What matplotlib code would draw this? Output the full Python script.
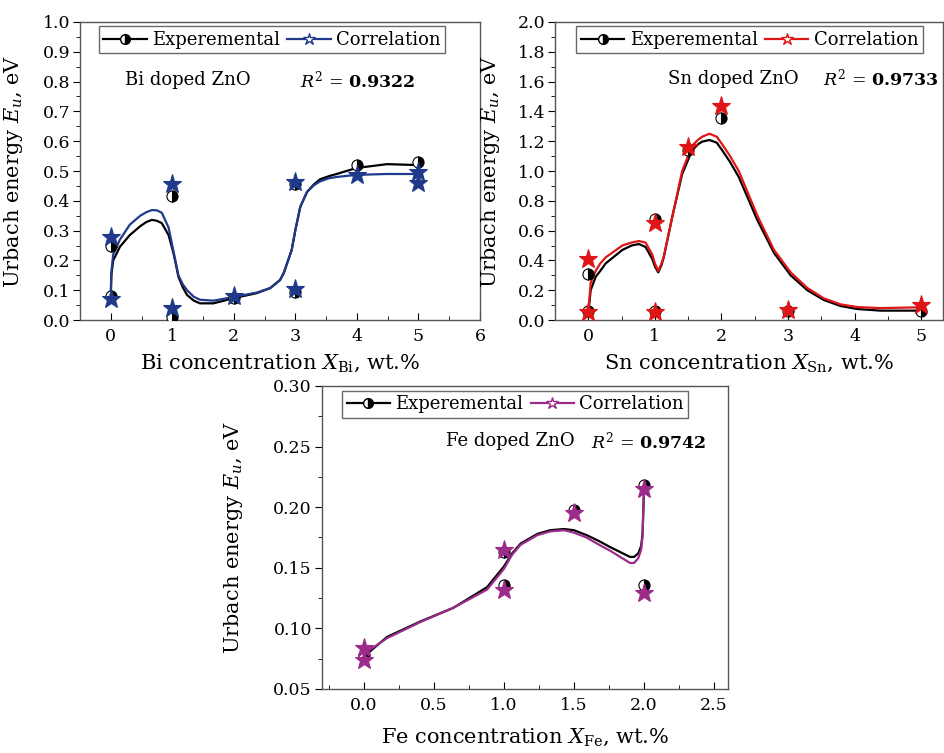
import matplotlib
matplotlib.use("Agg")
import matplotlib.pyplot as plt
from matplotlib.lines import Line2D
from matplotlib.ticker import MultipleLocator, FormatStrFormatter

plt.rcParams["font.family"] = ["DejaVu Serif"]
plt.rcParams["mathtext.fontset"] = "dejavuserif"

# ---- Bi doped ZnO ----
bi_exp_x = [0, 0, 1, 1, 2, 3, 3, 4, 5]
bi_exp_y = [0.25, 0.08, 0.415, 0.01, 0.075, 0.455, 0.095, 0.52, 0.53]
bi_cor_x = [0, 0, 1, 1, 2, 3, 3, 4, 5, 5]
bi_cor_y = [0.28, 0.07, 0.455, 0.04, 0.08, 0.464, 0.103, 0.487, 0.498, 0.46]
bi_fit_x = [0, 0.01, 0.04, 0.15, 0.31, 0.48, 0.58, 0.67, 0.75, 0.83, 0.94, 1.02,
            1.06, 1.1, 1.17, 1.24, 1.35, 1.45, 1.67, 1.99, 2.37, 2.59, 2.75,
            2.81, 2.94, 3.0, 3.08, 3.19, 3.3, 3.4, 3.55, 3.67, 3.99, 4.49, 4.98]
bi_fit_exp = [0.078, 0.15, 0.20, 0.246, 0.285, 0.315, 0.329, 0.336, 0.333, 0.325,
              0.285, 0.224, 0.185, 0.145, 0.11, 0.084, 0.065, 0.056, 0.056,
              0.073, 0.09, 0.107, 0.134, 0.157, 0.235, 0.302, 0.38, 0.43,
              0.455, 0.472, 0.483, 0.49, 0.51, 0.523, 0.52]
bi_fit_cor = [0.07, 0.16, 0.22, 0.27, 0.32, 0.35, 0.362, 0.369, 0.368, 0.36,
              0.31, 0.23, 0.19, 0.15, 0.12, 0.10, 0.078, 0.068, 0.065, 0.077,
              0.092, 0.107, 0.134, 0.157, 0.235, 0.302, 0.38, 0.43, 0.452,
              0.465, 0.476, 0.48, 0.487, 0.49, 0.49]

# ---- Sn doped ZnO ----
sn_exp_x = [0, 0, 1, 1, 1.5, 2, 3, 5]
sn_exp_y = [0.307, 0.06, 0.68, 0.06, 1.14, 1.354, 0.06, 0.062]
sn_cor_x = [0, 0, 1, 1, 1.5, 2, 3, 5]
sn_cor_y = [0.41, 0.056, 0.65, 0.056, 1.163, 1.436, 0.067, 0.1]
sn_fit_x = [0, 0.035, 0.11, 0.18, 0.26, 0.51, 0.65, 0.76, 0.86, 0.96, 1.0,
            1.05, 1.1, 1.135, 1.26, 1.41, 1.56, 1.65, 1.71, 1.82, 1.93, 2.01,
            2.13, 2.26, 2.54, 2.79, 3.04, 3.29, 3.54, 3.79, 4.04, 4.39, 4.94, 5.0]
sn_fit_exp = [0.05, 0.20, 0.29, 0.33, 0.38, 0.47, 0.50, 0.51, 0.49, 0.41, 0.36,
              0.32, 0.37, 0.425, 0.69, 0.98, 1.14, 1.18, 1.197, 1.208, 1.19,
              1.14, 1.06, 0.96, 0.67, 0.45, 0.30, 0.20, 0.134, 0.094, 0.074,
              0.063, 0.063, 0.062]
sn_fit_cor = [0.05, 0.25, 0.33, 0.38, 0.42, 0.50, 0.52, 0.53, 0.52, 0.44, 0.38,
              0.33, 0.38, 0.43, 0.69, 1.0, 1.17, 1.21, 1.23, 1.25, 1.23, 1.18,
              1.10, 1.0, 0.70, 0.47, 0.32, 0.215, 0.145, 0.105, 0.087, 0.08,
              0.085, 0.09]

# ---- Fe doped ZnO ----
fe_exp_x = [0, 1, 1, 1.5, 2, 2]
fe_exp_y = [0.078, 0.163, 0.136, 0.198, 0.218, 0.136]
fe_cor_x = [0, 0, 1, 1, 1.5, 2, 2]
fe_cor_y = [0.084, 0.074, 0.165, 0.132, 0.1955, 0.215, 0.129]
fe_fit_x = [0, 0.167, 0.40, 0.64, 0.88, 1.0, 1.06, 1.12, 1.24, 1.33, 1.43, 1.5,
            1.59, 1.68, 1.76, 1.83, 1.90, 1.93, 1.96, 1.98, 1.99, 2.0]
fe_fit_exp = [0.0767, 0.093, 0.1055, 0.117, 0.134, 0.151, 0.162, 0.170, 0.178,
              0.181, 0.182, 0.181, 0.177, 0.172, 0.167, 0.163, 0.159, 0.159,
              0.162, 0.168, 0.178, 0.214]
fe_fit_cor = [0.079, 0.092, 0.105, 0.117, 0.132, 0.149, 0.161, 0.169, 0.177,
              0.180, 0.181, 0.179, 0.175, 0.169, 0.164, 0.159, 0.154, 0.154,
              0.158, 0.165, 0.176, 0.214]

PANELS = [
    dict(rect=[0.0847, 0.575, 0.4238, 0.3958], color="#1f3a8a",
         exp=(bi_exp_x, bi_exp_y), cor=(bi_cor_x, bi_cor_y),
         fit=(bi_fit_x, bi_fit_exp, bi_fit_cor),
         xlim=(-0.5, 6), ylim=(0, 1.0), xmaj=1, xmin=0.5, ymaj=0.1, ymin=0.05,
         yfmt="%.1f", xfmt="%d",
         xlabel=r"Bi concentration $X_{\mathrm{Bi}}$, wt.%",
         label="Bi doped ZnO", r2="0.9322", lab_xy=(0.23, 0.805), r2_xy=(3.08, 0.805),
         leg=(0.0475, 0.985), ylab_x=-0.1375, xlab_y=-0.11),
    dict(rect=[0.588, 0.575, 0.411, 0.3958], color="#e01515",
         exp=(sn_exp_x, sn_exp_y), cor=(sn_cor_x, sn_cor_y),
         fit=(sn_fit_x, sn_fit_exp, sn_fit_cor),
         xlim=(-0.5, 5.33), ylim=(0, 2.0), xmaj=1, xmin=0.5, ymaj=0.2, ymin=0.1,
         yfmt="%.1f", xfmt="%d",
         xlabel=r"Sn concentration $X_{\mathrm{Sn}}$, wt.%",
         label="Sn doped ZnO", r2="0.9733", lab_xy=(1.2, 1.62), r2_xy=(3.53, 1.62),
         leg=(0.055, 0.985), ylab_x=-0.137, xlab_y=-0.11),
    dict(rect=[0.3408, 0.085, 0.4304, 0.4024], color="#9c2b8a",
         exp=(fe_exp_x, fe_exp_y), cor=(fe_cor_x, fe_cor_y),
         fit=(fe_fit_x, fe_fit_exp, fe_fit_cor),
         xlim=(-0.3, 2.6), ylim=(0.05, 0.30), xmaj=0.5, xmin=0.25, ymaj=0.05,
         ymin=0.025, yfmt="%.2f", xfmt="%.1f",
         xlabel=r"Fe concentration $X_{\mathrm{Fe}}$, wt.%",
         label="Fe doped ZnO", r2="0.9742", lab_xy=(0.59, 0.2546), r2_xy=(1.62, 0.2546),
         leg=(0.05, 0.985), ylab_x=-0.189, xlab_y=-0.125),
]

fig = plt.figure(figsize=(9.44, 7.53), dpi=100)

for p in PANELS:
    ax = fig.add_axes(p["rect"])
    c = p["color"]
    fx, fe, fc = p["fit"]
    ax.plot(fx, fe, color="black", lw=1.6, zorder=2)
    ax.plot(fx, fc, color=c, lw=1.6, zorder=2)
    ax.plot(*p["exp"], ls="none", marker="o", ms=8, fillstyle="right",
            markerfacecolor="black", markerfacecoloralt="white",
            markeredgecolor="black", markeredgewidth=0.8, zorder=3)
    ax.plot(*p["cor"], ls="none", marker="*", ms=14, markerfacecolor=c,
            markeredgecolor=c, markeredgewidth=0.8, zorder=4)

    ax.set_xlim(*p["xlim"])
    ax.set_ylim(*p["ylim"])
    ax.xaxis.set_major_locator(MultipleLocator(p["xmaj"]))
    ax.xaxis.set_minor_locator(MultipleLocator(p["xmin"]))
    ax.yaxis.set_major_locator(MultipleLocator(p["ymaj"]))
    ax.yaxis.set_minor_locator(MultipleLocator(p["ymin"]))
    ax.xaxis.set_major_formatter(FormatStrFormatter(p["xfmt"]))
    ax.yaxis.set_major_formatter(FormatStrFormatter(p["yfmt"]))
    ax.tick_params(axis="x", which="major", direction="in", length=5, labelsize=12.5, pad=6)
    ax.tick_params(axis="x", which="minor", direction="in", length=3)
    ax.tick_params(axis="y", which="major", direction="out", length=5, labelsize=12.5, pad=2)
    ax.tick_params(axis="y", which="minor", direction="out", length=3)
    for s in ax.spines.values():
        s.set_color("#555555")
        s.set_linewidth(1.0)

    ax.set_ylabel(r"Urbach energy $E_u$, eV", fontsize=15)
    ax.yaxis.set_label_coords(p["ylab_x"], 0.5)
    ax.set_xlabel(p["xlabel"], fontsize=15)
    ax.xaxis.set_label_coords(0.5, p["xlab_y"])

    ax.text(*p["lab_xy"], p["label"], fontsize=13, va="center")
    ax.text(*p["r2_xy"], r"$R^2$ = $\mathbf{" + p["r2"] + "}$", fontsize=12.5, va="center")

    handles = [
        Line2D([], [], color="black", lw=1.6, marker="o", ms=7, fillstyle="right",
               markerfacecolor="black", markerfacecoloralt="white",
               markeredgecolor="black"),
        Line2D([], [], color=c, lw=1.6, marker="*", ms=9,
               markerfacecolor="white", markeredgecolor=c),
    ]
    leg = ax.legend(handles, ["Experemental", "Correlation"], ncol=2,
                    loc="upper left", bbox_to_anchor=p["leg"], fontsize=13,
                    frameon=True, fancybox=False, edgecolor="#444444",
                    handlelength=2.4, handletextpad=0.3, columnspacing=0.4,
                    borderpad=0.25, borderaxespad=0.0)
    leg.get_frame().set_linewidth(1.0)

fig.savefig("out.png", dpi=100)
